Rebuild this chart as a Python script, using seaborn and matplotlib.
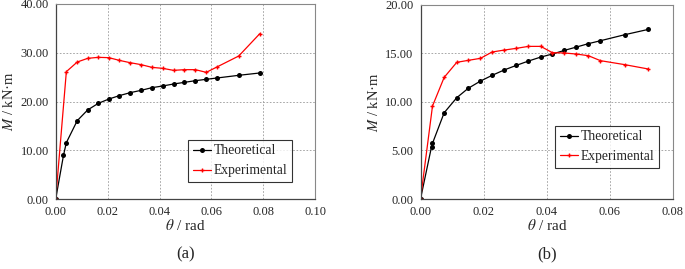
import numpy as np
import pandas as pd
import seaborn as sns
import matplotlib.pyplot as plt
from matplotlib.ticker import FormatStrFormatter, MultipleLocator

# panel (a)
a_theo_x = [0, 0.0030, 0.0041, 0.0083, 0.0123, 0.0164, 0.0205, 0.0245, 0.0286, 0.0329,
            0.0371, 0.0412, 0.0454, 0.0496, 0.0538, 0.0580, 0.0621, 0.0705, 0.0786]
a_theo_y = [0, 8.96, 11.56, 16.07, 18.26, 19.62, 20.51, 21.20, 21.80, 22.29,
            22.84, 23.18, 23.59, 23.93, 24.27, 24.55, 24.82, 25.37, 25.85]
a_exp_x = [0, 0.0041, 0.0083, 0.0123, 0.0164, 0.0205, 0.0245, 0.0286, 0.0329,
           0.0371, 0.0412, 0.0454, 0.0496, 0.0538, 0.0580, 0.0621, 0.0705, 0.0786]
a_exp_y = [0, 26.12, 28.10, 28.85, 29.06, 28.99, 28.44, 27.97, 27.56,
           27.00, 26.80, 26.39, 26.53, 26.53, 25.98, 27.08, 29.33, 33.90]

# panel (b)
b_theo_x = [0, 0.0035, 0.0038, 0.0075, 0.0115, 0.0151, 0.0190, 0.0227, 0.0265, 0.0304,
            0.0342, 0.0381, 0.0418, 0.0456, 0.0494, 0.0532, 0.0570, 0.0647, 0.0722]
b_theo_y = [0, 5.39, 5.73, 8.88, 10.43, 11.39, 12.14, 12.73, 13.28, 13.76,
            14.20, 14.61, 14.92, 15.30, 15.64, 15.99, 16.29, 16.91, 17.46]
b_exp_x = [0, 0.0038, 0.0075, 0.0115, 0.0151, 0.0190, 0.0227, 0.0265, 0.0304,
           0.0342, 0.0381, 0.0418, 0.0456, 0.0494, 0.0532, 0.0570, 0.0647, 0.0722]
b_exp_y = [0, 9.57, 12.52, 14.07, 14.27, 14.48, 15.13, 15.33, 15.51,
           15.71, 15.71, 15.06, 15.03, 14.92, 14.75, 14.24, 13.83, 13.38]

sns.set_style("white")
plt.rcParams['font.family'] = ['Liberation Serif', 'DejaVu Serif']
plt.rcParams['mathtext.fontset'] = 'stix'

fig = plt.figure(figsize=(6.85, 2.69), dpi=100)
ax1 = fig.add_axes([55.7 / 685, 1 - 199 / 269, 259.6 / 685, 195 / 269])
ax2 = fig.add_axes([420.5 / 685, 1 - 199 / 269, 252.5 / 685, 194.3 / 269])


def panel(ax, tx, ty, ex, ey, xmax, ymax, ystep, tag, leg_anchor):
    df_t = pd.DataFrame({"x": tx, "y": ty})
    df_e = pd.DataFrame({"x": ex, "y": ey})
    sns.lineplot(data=df_t, x="x", y="y", ax=ax, sort=False, color="black", lw=0.9,
                 linestyle="-", marker="o", markersize=3.6, markeredgewidth=0,
                 markerfacecolor="black", label="Theoretical")
    sns.lineplot(data=df_e, x="x", y="y", ax=ax, sort=False, color="#ff0000", lw=0.9,
                 linestyle="-", marker="+", markersize=3.5, markeredgewidth=1.0,
                 markeredgecolor="#ff0000", label="Experimental")
    ax.set_xlim(0, xmax)
    ax.set_ylim(0, ymax)
    ax.xaxis.set_major_locator(MultipleLocator(0.02))
    ax.yaxis.set_major_locator(MultipleLocator(ystep))
    ax.xaxis.set_major_formatter(FormatStrFormatter('%.2f'))
    ax.yaxis.set_major_formatter(FormatStrFormatter('%.2f'))
    ax.grid(True, color="#999999", ls=(0, (2, 2)), lw=0.6)
    ax.tick_params(labelsize=9, length=0, pad=5)
    for s in ["top", "right"]:
        ax.spines[s].set_color("#888888")
        ax.spines[s].set_linewidth(0.8)
    for s in ["left", "bottom"]:
        ax.spines[s].set_color("#444444")
        ax.spines[s].set_linewidth(0.9)
    ax.set_xlabel(r"$\theta$ / rad", fontsize=11, labelpad=0)
    ax.set_ylabel(r"$M$ / kN·m", fontsize=10.5, labelpad=3)
    leg = ax.legend(loc="lower right", bbox_to_anchor=leg_anchor, fontsize=9.8,
                    frameon=True, fancybox=False, edgecolor="black", borderpad=0.35,
                    handlelength=1.3, handletextpad=0.2, labelspacing=0.5,
                    borderaxespad=0)
    leg.get_frame().set_linewidth(0.8)
    ax.text(0.5, -0.285, tag, transform=ax.transAxes, ha="center", va="center", fontsize=12)


panel(ax1, a_theo_x, a_theo_y, a_exp_x, a_exp_y, 0.10, 40, 10, "(a)", (0.91, 0.087))
panel(ax2, b_theo_x, b_theo_y, b_exp_x, b_exp_y, 0.08, 20, 5, "(b)", (0.945, 0.16))

fig.savefig("out.png", dpi=100)
